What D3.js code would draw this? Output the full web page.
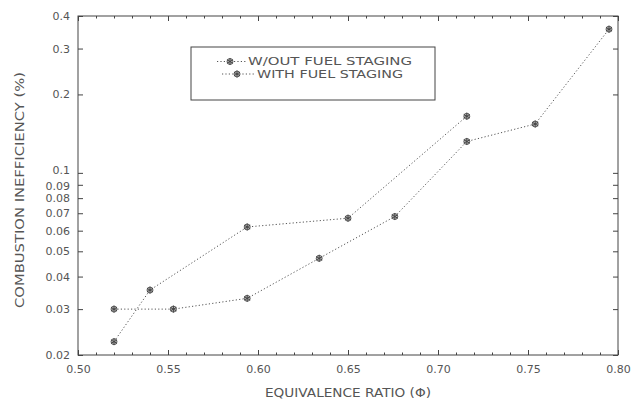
<!DOCTYPE html>
<html>
<head>
<meta charset="utf-8">
<script src="https://cdn.jsdelivr.net/npm/d3@7"></script>
<style>
  body { margin: 0; background: #fff; }
  text { font-family: "DejaVu Sans", Verdana, sans-serif; fill: #555; }
</style>
</head>
<body>
<svg id="chart"></svg>
<script>
const seriesNames = ["W/OUT FUEL STAGING", "WITH FUEL STAGING"];
const woutPhi = [0.52, 0.553, 0.594, 0.634, 0.676, 0.716, 0.754, 0.795];
const woutIneff = [0.030, 0.030, 0.033, 0.047, 0.068, 0.132, 0.154, 0.356];
const withPhi = [0.52, 0.54, 0.594, 0.65, 0.716];
const withIneff = [0.0225, 0.0355, 0.062, 0.067, 0.165];
const xTicks = [0.50, 0.55, 0.60, 0.65, 0.70, 0.75, 0.80];
const yTicks = [0.02, 0.03, 0.04, 0.05, 0.06, 0.07, 0.08, 0.09, 0.1, 0.2, 0.3, 0.4];

const margin = { top: 16, right: 16, bottom: 48, left: 78 };
const W = 634, H = 403;
const width = W - margin.left - margin.right;
const height = H - margin.top - margin.bottom;

const svg = d3.select("#chart").attr("width", W).attr("height", H);
const g = svg.append("g").attr("transform", `translate(${margin.left},${margin.top})`);

const x = d3.scaleLinear().domain([0.5, 0.8]).range([0, width]);
const y = d3.scaleLog().domain([0.02, 0.4]).range([height, 0]);

const ink = "#444";

// frame
g.append("rect")
  .attr("width", width).attr("height", height)
  .attr("fill", "none").attr("stroke", ink).attr("stroke-width", 1);

// ticks point inward on all four sides
const xMinor = d3.range(50, 81).map(d => d / 100);
const xAxisB = d3.axisBottom(x).tickValues(xTicks).tickSize(-5).tickPadding(10).tickFormat(d3.format(".2f"));
const xAxisBm = d3.axisBottom(x).tickValues(xMinor).tickSize(-2.5).tickFormat("");
const xAxisT = d3.axisTop(x).tickValues(xTicks).tickSize(-5).tickFormat("");
const xAxisTm = d3.axisTop(x).tickValues(xMinor).tickSize(-2.5).tickFormat("");

const yAxisL = d3.axisLeft(y).tickValues(yTicks).tickSize(-5).tickPadding(8).tickFormat(d => String(+d.toFixed(2)));
const yAxisR = d3.axisRight(y).tickValues(yTicks).tickSize(-5).tickFormat("");

function styleAxis(sel) {
  sel.select(".domain").remove();
  sel.selectAll("line").attr("stroke", ink);
  sel.selectAll("text").attr("font-size", 11).attr("fill", "#555")
    .style("font-family", "'DejaVu Sans', Verdana, sans-serif");
}

g.append("g").attr("transform", `translate(0,${height})`).call(xAxisB).call(styleAxis);
g.append("g").attr("transform", `translate(0,${height})`).call(xAxisBm).call(styleAxis);
g.append("g").call(xAxisT).call(styleAxis);
g.append("g").call(xAxisTm).call(styleAxis);
const yl = g.append("g").call(yAxisL).call(styleAxis);
g.append("g").attr("transform", `translate(${width},0)`).call(yAxisR).call(styleAxis);

// the 0.1 / 0.09 labels are crowded, lift 0.1 a little like the original
yl.selectAll(".tick text").filter(d => d === 0.1).attr("dy", "0.1em");
yl.selectAll(".tick text").filter(d => d === 0.09).attr("dy", "0.45em");

// axis titles
g.append("text")
  .attr("x", x(0.65)).attr("y", height + 42)
  .attr("text-anchor", "middle").attr("font-size", 12)
  .attr("textLength", 166).attr("lengthAdjust", "spacingAndGlyphs")
  .text("EQUIVALENCE RATIO (Φ)");

g.append("text")
  .attr("transform", "rotate(-90)")
  .attr("x", -(190 - margin.top)).attr("y", -54)
  .attr("text-anchor", "middle").attr("font-size", 12)
  .attr("textLength", 236).attr("lengthAdjust", "spacingAndGlyphs")
  .text("COMBUSTION INEFFICIENCY (%)");

// series
const series = [
  { name: seriesNames[0], data: woutPhi.map((p, i) => ({ p, v: woutIneff[i] })) },
  { name: seriesNames[1], data: withPhi.map((p, i) => ({ p, v: withIneff[i] })) }
];

const line = d3.line().x(d => x(d.p)).y(d => y(d.v));
const star = d3.symbol().type(d3.symbolAsterisk).size(34);

function marker(sel) {
  sel.append("circle").attr("r", 3).attr("fill", "#bbb").attr("stroke", ink).attr("stroke-width", 0.8);
  sel.append("path").attr("d", star).attr("fill", "none").attr("stroke", ink).attr("stroke-width", 1);
}

series.forEach(s => {
  g.append("path")
    .datum(s.data)
    .attr("d", line)
    .attr("fill", "none")
    .attr("stroke", "#555")
    .attr("stroke-width", 1)
    .attr("stroke-dasharray", "1.2,2.2");

  g.selectAll(null)
    .data(s.data)
    .enter()
    .append("g")
    .attr("transform", d => `translate(${x(d.p)},${y(d.v)})`)
    .call(marker);
});

// legend
const lg = svg.append("g").attr("transform", "translate(191,47)");
lg.append("rect").attr("width", 244).attr("height", 53)
  .attr("fill", "#fff").attr("stroke", ink).attr("stroke-width", 1);

const legendRows = [
  { x1: 26, xm: 39, x2: 55, tx: 57, len: 164 },
  { x1: 31, xm: 46, x2: 64, tx: 66, len: 146 }
];

const item = lg.selectAll(".item")
  .data(seriesNames)
  .enter()
  .append("g")
  .attr("class", "item")
  .attr("transform", (d, i) => `translate(0,${14.5 + i * 12.5})`);

item.append("line")
  .attr("x1", (d, i) => legendRows[i].x1).attr("x2", (d, i) => legendRows[i].x2)
  .attr("stroke", "#555").attr("stroke-dasharray", "1.2,2.2");
item.append("g").attr("transform", (d, i) => `translate(${legendRows[i].xm},0)`).call(marker);
item.append("text")
  .attr("x", (d, i) => legendRows[i].tx).attr("dy", "0.36em")
  .attr("font-size", 10.5)
  .attr("textLength", (d, i) => legendRows[i].len).attr("lengthAdjust", "spacingAndGlyphs")
  .text(d => d);
</script>
</body>
</html>
